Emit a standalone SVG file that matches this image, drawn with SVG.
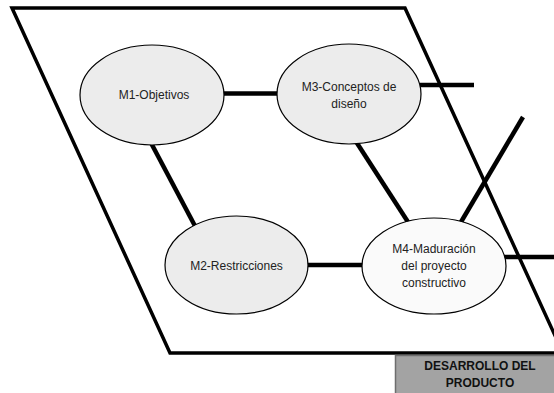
<svg xmlns="http://www.w3.org/2000/svg" width="554" height="393" viewBox="0 0 554 393">
  <style>
    .frame { fill: none; stroke: #000; stroke-width: 3.5; stroke-linejoin: miter; }
    .link { stroke: #000; stroke-width: 4.5; fill: none; }
    .node { fill: #ececec; stroke: #000; stroke-width: 1.2; }
    .node.light { fill: #fafafa; }
    .label { font-family: "Liberation Sans", Arial, sans-serif; font-size: 12px; fill: #222; text-anchor: middle; }
    .title { font-family: "Liberation Sans", Arial, sans-serif; font-size: 12px; font-weight: bold; fill: #111; text-anchor: middle; }
  </style>
  <rect width="554" height="393" fill="#fff"/>

  <!-- product development plane -->
  <g id="plane">
    <polygon class="frame" points="12,8 405,8 563,353 170,353"/>
  </g>

  <!-- caption box -->
  <g id="caption">
    <rect x="395.5" y="355.5" width="162" height="40" fill="#a3a3a3" stroke="#6e6e6e" stroke-width="1.5"/>
    <text class="title" x="480" y="370">DESARROLLO DEL</text>
    <text class="title" x="480" y="387">PRODUCTO</text>
  </g>

  <!-- connectors -->
  <g id="connectors">
    <line class="link" x1="222" y1="93.5" x2="279" y2="93.5"/>
    <line class="link" x1="150" y1="141" x2="195" y2="226"/>
    <line class="link" x1="355" y1="140" x2="408" y2="222"/>
    <line class="link" x1="306" y1="265" x2="364" y2="265"/>
    <line class="link" x1="461" y1="222" x2="523" y2="117"/>
    <line class="link" x1="420" y1="85" x2="474" y2="85"/>
    <line class="link" x1="504" y1="257" x2="554" y2="257"/>
  </g>

  <!-- nodes -->
  <g id="m1">
    <ellipse class="node" cx="152" cy="95" rx="72" ry="50"/>
    <text class="label" x="154" y="99">M1-Objetivos</text>
  </g>
  <g id="m3">
    <ellipse class="node" cx="349" cy="94" rx="72" ry="50"/>
    <text class="label" x="349" y="91">M3-Conceptos de</text>
    <text class="label" x="349" y="108">diseño</text>
  </g>
  <g id="m2">
    <ellipse class="node" cx="236.5" cy="265" rx="71.5" ry="49"/>
    <text class="label" x="236.5" y="270">M2-Restricciones</text>
  </g>
  <g id="m4">
    <ellipse class="node light" cx="434" cy="266" rx="72" ry="48"/>
    <text class="label" x="434" y="253">M4-Maduración</text>
    <text class="label" x="434" y="270">del proyecto</text>
    <text class="label" x="434" y="287">constructivo</text>
  </g>
</svg>
